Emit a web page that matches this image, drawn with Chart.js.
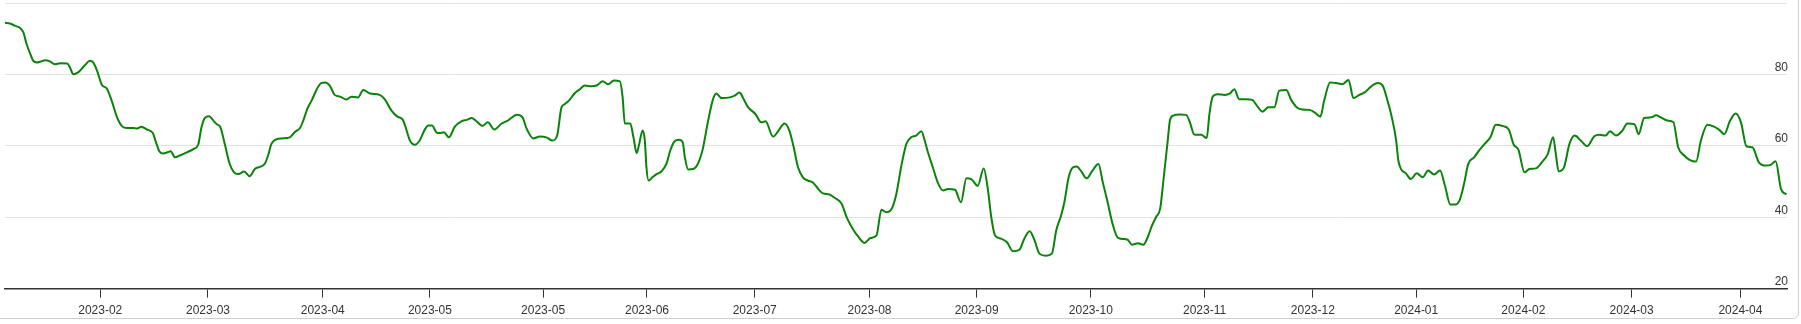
<!DOCTYPE html>
<html><head><meta charset="utf-8">
<script src="https://cdn.jsdelivr.net/npm/chart.js@4"></script>
<style>
html,body{margin:0;padding:0;background:#fff;overflow:hidden;width:1801px;height:324px;}
#box{position:absolute;left:-10px;top:-10px;width:1809px;height:329px;box-sizing:border-box;border:1px solid #cfcfcf;border-radius:6px;}
#wrap{position:absolute;left:0;top:-5px;width:1797px;height:329px;}
</style></head><body>
<div id="box"></div>
<div id="wrap"><canvas id="c"></canvas></div>
<script>
// x = trading-day index from the first point, y = indicator value
const days = [0,0.9,1.8,2.9,3.4,4.0,4.8,5.2,5.9,6.5,7.4,8.3,9.2,10.2,11.5,12.0,12.6,13.5,14.8,15.7,16.3,17.0,17.9,18.8,19.7,20.7,21.7,22.5,23.7,24.4,25.2,26.2,27.3,27.9,28.5,29.2,30.0,30.6,31.4,32.3,33.6,34.8,35.7,36.3,36.9,37.7,38.5,39.1,39.8,40.6,41.5,42.3,43.1,44.2,45.2,46.2,47.1,48.0,48.6,49.2,49.9,51.1,52.6,53.6,54.5,55.1,55.9,56.7,57.6,58.4,59.2,60.0,60.9,61.9,63.1,64.0,65.2,66.2,67.4,69.2,70.2,71.4,72.5,73.5,74.2,74.8,75.7,76.6,77.6,78.2,78.9,79.7,80.3,81.1,82.0,83.1,84.3,85.3,86.2,87.1,88.2,89.2,90.4,91.7,92.9,94.6,95.6,96.4,97.6,98.8,100.0,101.1,102.0,102.8,103.4,104.3,105.2,106.2,107.1,108.3,109.4,110.4,111.4,112.5,113.6,114.1,114.5,115.5,116.1,116.7,117.1,117.8,118.2,118.5,118.9,119.6,120.3,121.3,122.2,122.9,123.7,124.5,125.2,125.6,126.2,127.1,128.0,128.9,129.9,130.8,131.4,132.4,133.9,134.8,135.7,136.3,137.2,138.7,139.7,140.5,141.9,142.9,144.0,144.9,145.7,146.5,147.4,148.3,149.2,150.2,151.1,152.3,153.3,154.5,155.6,156.6,157.7,158.8,159.9,161.0,161.9,162.8,163.7,164.6,165.6,166.5,167.4,168.3,169.3,169.9,170.5,171.4,172.3,173.3,174.2,175.5,176.6,177.6,178.5,179.7,180.8,181.6,182.2,182.9,184.0,185.1,186.2,187.4,188.3,189.3,190.2,191.1,192.3,193.4,194.2,195.1,195.7,196.5,197.3,198.0,198.8,199.8,200.9,202.0,202.8,203.7,204.6,205.6,206.5,207.4,208.2,209.3,210.3,211.1,211.9,212.7,213.4,214.0,214.8,215.2,215.8,217.0,218.2,218.9,219.7,221.0,222.0,222.5,223.1,224.0,225.3,226.3,227.1,228.0,229.3,230.4,231.4,232.3,233.4,234.5,235.4,236.7,237.6,238.8,239.7,241.0,242.0,243.0,243.7,244.8,245.9,247.1,248.2,249.1,250.2,251.2,252.4,253.6,254.5,255.4,256.2,257.0,257.4,257.9,258.8,259.7,260.8,261.9,262.9,264.0,265.1,266.0,267.0,268.0,268.8,269.6,270.3,271.4,272.3,273.3,274.4,275.4,276.6,277.8,278.7,279.6,280.7,281.6,282.8,283.9,285.0,286.0,286.5,287.0,288.0,289.0,290.0,291.1,292.3,293.6,294.6,295.7,296.5,297.6,298.8,299.7,301.0,301.8,302.8,304.1,305.0,305.9,307.1,308.2,309.1,310.2,311.2,312.4,313.3,314.5,315.7,316.7,317.6,318.7,319.7,320.7,321.7,322.8,324.0,325.3,326.2,327.1,328.1,329.1];
const values = [94.5,94.3,93.7,92.9,91.8,88.5,85.3,83.9,83.4,83.6,84.0,83.7,82.9,83.2,83.1,82.0,80.1,80.6,82.7,83.9,83.4,81.1,77.1,76.1,72.7,68.0,65.4,65.0,65.0,64.9,65.4,64.6,63.6,61.0,58.5,57.9,58.2,58.5,56.8,57.3,58.2,59.1,60.4,65.2,67.8,68.3,67.1,66.1,65.2,60.5,55.0,52.6,52.1,52.8,51.5,53.6,54.1,55.0,57.3,60.5,61.7,62.1,62.4,64.0,65.0,67.1,70.6,72.9,75.9,77.6,77.8,76.9,74.3,73.8,73.0,73.8,73.6,75.7,74.7,74.3,73.0,69.9,68.2,67.3,64.3,61.5,60.3,61.5,64.7,65.7,65.7,63.8,63.6,63.8,62.4,65.4,66.9,67.3,67.8,66.9,65.6,66.6,64.6,66.2,67.1,68.7,68.0,64.7,62.1,62.6,62.4,61.5,62.9,70.8,71.7,72.9,74.7,75.9,76.9,76.7,77.0,78.1,77.3,78.3,78.1,73.6,66.3,66.3,62.4,58.0,60.1,64.3,61.5,54.0,50.3,51.2,52.0,52.9,55.0,58.7,61.3,61.7,61.0,56.8,53.4,53.5,55.0,59.1,67.1,73.1,74.7,73.4,73.6,74.1,75.0,73.6,71.0,68.8,66.6,66.9,62.6,64.3,66.3,64.3,59.6,54.0,51.2,50.3,49.8,48.0,46.7,46.4,45.4,43.9,39.6,36.8,34.4,32.8,34.2,34.9,42.1,41.4,42.1,46.1,54.5,60.5,62.4,62.9,64.1,61.5,58.2,54.0,49.8,47.5,47.9,47.7,44.2,50.9,50.7,48.8,53.7,47.5,40.0,34.9,34.0,33.0,30.5,30.9,34.0,36.1,33.5,29.8,29.2,29.8,36.3,40.5,44.2,51.2,54.0,54.2,52.9,50.9,53.1,54.9,49.8,44.2,38.2,34.2,33.9,33.7,32.3,32.7,32.3,34.4,37.7,40.2,42.4,50.3,61.5,67.1,68.5,68.8,68.7,66.6,63.2,63.1,62.2,68.9,73.8,74.5,74.3,74.7,75.9,73.1,73.1,72.9,71.0,69.6,70.8,70.8,75.5,75.7,72.9,70.6,70.2,70.1,69.3,68.2,72.7,77.8,77.6,77.3,78.5,73.4,74.3,75.0,76.7,77.6,76.9,72.7,68.0,61.5,55.9,53.5,52.3,50.7,52.3,51.2,53.1,52.0,53.1,48.9,43.6,43.6,45.1,49.8,54.9,56.8,58.7,60.5,62.4,65.9,65.6,64.6,60.4,58.9,52.6,53.5,53.7,55.4,57.7,62.4,57.7,52.9,54.0,60.5,62.9,61.5,59.9,62.7,63.1,62.9,64.1,62.9,64.3,66.3,66.1,63.3,67.8,68.0,68.6,68.0,67.1,66.7,59.6,57.3,56.1,55.6,61.5,65.9,65.4,64.5,63.3,67.1,69.1,66.6,59.9,59.6,55.4,54.5,54.7,55.7,47.9,46.4];
const tickDays = [17.6,37.5,58.7,78.5,99.4,118.6,138.5,159.7,179.5,200.6,221.6,241.6,260.7,280.5,300.5,320.6];
const tickLabels = ['2023-02','2023-03','2023-04','2023-05','2023-05','2023-06','2023-07','2023-08','2023-09','2023-10','2023-11','2023-12','2024-01','2024-02','2024-03','2024-04'];
const yTickValues = [20,40,60,80,100];
const yLabelShown = {20:'20',40:'40',60:'60',80:'80',100:''};
const xMin = 0, xMax = 329.2;

const font = {family: "'Liberation Sans', Arial, sans-serif", size: 12};
new Chart(document.getElementById('c'), {
  type: 'line',
  data: {
    datasets: [{
      data: days.map((d, i) => ({x: d, y: values[i]})),
      borderColor: '#0a830a',
      borderWidth: 2,
      pointRadius: 0,
      fill: false,
      cubicInterpolationMode: 'monotone'
    }]
  },
  options: {
    responsive: true,
    maintainAspectRatio: false,
    animation: false,
    events: [],
    layout: {padding: {left: 5, right: 8, top: 0, bottom: 0}},
    plugins: {legend: {display: false}, tooltip: {enabled: false}},
    scales: {
      x: {
        type: 'linear',
        min: xMin, max: xMax,
        afterBuildTicks: (s) => { s.ticks = tickDays.map(v => ({value: v})); },
        grid: {display: true, drawOnChartArea: false, drawTicks: true, tickLength: 9, color: '#333', tickWidth: 1},
        border: {display: true, color: '#333', width: 1.5},
        ticks: {autoSkip: false, maxRotation: 0, padding: 6, color: '#333', font,
          callback: (v, i) => tickLabels[i]}
      },
      y: {
        position: 'right',
        min: 20, max: 100,
        afterBuildTicks: (s) => { s.ticks = yTickValues.map(v => ({value: v})); },
        grid: {drawTicks: false, color: (c) => (c.tick && c.tick.value === 20) ? 'rgba(0,0,0,0)' : '#e2e2e2'},
        border: {display: false},
        ticks: {mirror: true, padding: 1, labelOffset: -7, color: '#333', font,
          callback: (v) => yLabelShown[v]}
      }
    }
  }
});
</script>
</body></html>
